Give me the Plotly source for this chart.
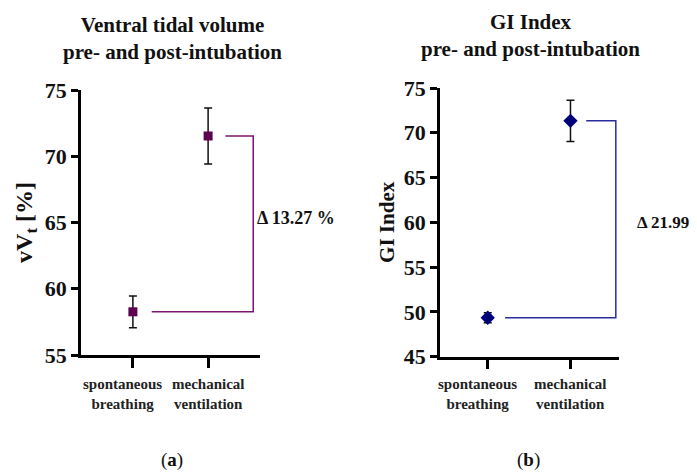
import plotly.graph_objects as go

W, H = 697, 472

categories = ["spontaneous<br>breathing", "mechanical<br>ventilation"]
vvt_mean = [58.26, 71.53]
vvt_err = [1.2, 2.12]
gi_mean = [49.35, 71.34]
gi_err = [0.55, 2.3]
vvt_ticks = [55, 60, 65, 70, 75]
gi_ticks = [45, 50, 55, 60, 65, 70, 75]
vvt_delta = "Δ 13.27 %"
gi_delta = "Δ 21.99"

TXT = "Liberation Serif"
NUM = "Liberation Serif"

def px(x):
    return x / W

def py(y):
    return 1 - y / H

def f(size, fam=TXT, color="#111111"):
    return dict(family=fam, size=size, color=color, weight="bold")

fig = go.Figure()
xs = [0, 1]

# panel a
fig.add_trace(go.Scatter(
    x=xs, y=vvt_mean, mode="markers", xaxis="x", yaxis="y",
    marker=dict(symbol="square", size=9, color="#5e0052"),
    error_y=dict(type="data", array=vvt_err, color="#111111", thickness=1.5, width=4),
    showlegend=False, cliponaxis=False))
fig.add_trace(go.Scatter(
    x=[0.25, 1.6, 1.6, 1.23], y=[vvt_mean[0], vvt_mean[0], vvt_mean[1], vvt_mean[1]],
    mode="lines", xaxis="x", yaxis="y", line=dict(color="#7d1470", width=1.5),
    showlegend=False, cliponaxis=False))

# panel b
fig.add_trace(go.Scatter(
    x=xs, y=gi_mean, mode="markers", xaxis="x2", yaxis="y2",
    marker=dict(symbol="diamond", size=11, color="#00007a"),
    error_y=dict(type="data", array=gi_err, color="#111111", thickness=1.5, width=4),
    showlegend=False, cliponaxis=False))
fig.add_trace(go.Scatter(
    x=[0.21, 1.548, 1.548, 1.19], y=[gi_mean[0], gi_mean[0], gi_mean[1], gi_mean[1]],
    mode="lines", xaxis="x2", yaxis="y2", line=dict(color="#2b2ba0", width=1.5),
    showlegend=False, cliponaxis=False))

xcommon = dict(showline=True, linewidth=2.5, linecolor="black", ticks="outside",
               ticklen=10, tickwidth=2.5, tickcolor="black", showgrid=False,
               zeroline=False, tickvals=xs, ticktext=["", ""], tickangle=0,
               automargin=False)
ycommon = dict(showline=True, linewidth=2.5, linecolor="black", ticks="outside",
               ticklen=7, tickwidth=2.5, tickcolor="black", showgrid=False,
               zeroline=False, tickfont=f(22, NUM), automargin=False)

fig.update_layout(
    width=W, height=H, margin=dict(l=0, r=0, t=0, b=0, autoexpand=False),
    paper_bgcolor="white", plot_bgcolor="white",
    xaxis=dict(domain=[px(81), px(260)], range=[-0.69, 1.69], anchor="y", **xcommon),
    yaxis=dict(domain=[py(355), py(90)], range=[55, 75], tickvals=vvt_ticks, anchor="x",
               title=dict(text="vV<sub>t</sub> [%]", font=f(24), standoff=6),
               **ycommon),
    xaxis2=dict(domain=[px(440), px(619.3)], range=[-0.577, 1.59], anchor="y2", **xcommon),
    yaxis2=dict(domain=[py(356.7), py(88)], range=[45, 75], tickvals=gi_ticks, anchor="x2",
                title=dict(text="GI Index", font=f(21), standoff=4),
                **ycommon),
)

# category labels (first one nudged left as in the reference)
for xa in ["x", "x2"]:
    for i, cat in enumerate(categories):
        fig.add_annotation(xref=xa, yref="paper", x=xs[i], y=py(394), text=cat,
                           xshift=-10 if i == 0 else 0, showarrow=False,
                           xanchor="center", yanchor="middle", font=f(15, color="#222222"))

ann = [
    dict(x=px(172), y=py(38), text="Ventral tidal volume<br>pre- and post-intubation", font=f(21)),
    dict(x=px(530), y=py(35), text="GI Index<br>pre- and post-intubation", font=f(21)),
    dict(x=px(255), y=py(218), text=vvt_delta, xanchor="left", font=f(18)),
    dict(x=px(635), y=py(223), text=gi_delta, xanchor="left", font=f(17)),
    dict(x=px(172), y=py(460), text="(<b>a</b>)", font=dict(family=TXT, size=19, color="#111111")),
    dict(x=px(528), y=py(460), text="(<b>b</b>)", font=dict(family=TXT, size=19, color="#111111")),
]
for a in ann:
    a.setdefault("xanchor", "center")
    fig.add_annotation(xref="paper", yref="paper", showarrow=False, yanchor="middle", **a)

fig.update_layout(font=dict(family=TXT))
fig.write_html("out.html", config={"displayModeBar": False},
               post_script="document.body.style.margin='0';document.body.style.overflow='hidden';")
